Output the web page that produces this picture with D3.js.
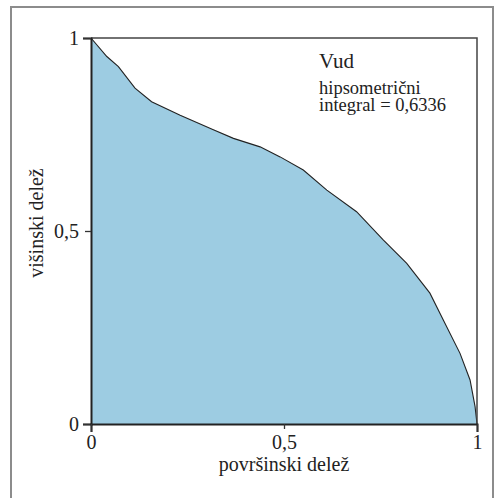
<!DOCTYPE html>
<html>
<head>
<meta charset="utf-8">
<script src="https://cdn.jsdelivr.net/npm/d3@7.9.0/dist/d3.min.js"></script>
</head>
<body style="margin:0">
<script>
// hypsometric curve
const areaShare   = [0, 0.041, 0.071, 0.114, 0.157, 0.231, 0.317, 0.369, 0.438, 0.490, 0.550, 0.611, 0.688, 0.757, 0.818, 0.878, 0.913, 0.956, 0.982, 0.995, 1];
const heightShare = [1, 0.952, 0.926, 0.870, 0.835, 0.800, 0.762, 0.740, 0.718, 0.692, 0.658, 0.606, 0.550, 0.477, 0.416, 0.339, 0.269, 0.183, 0.114, 0.045, 0];
const tickVals = [0, 0.5, 1];
const basinName = 'Vud';
const integralText = ['hipsometrični', 'integral = 0,6336'];

const W = 495, H = 498;
const pLeft = 91, pTop = 38, pRight = 477, pBottom = 424;
const fontFam = 'Liberation Serif';

const svg = d3.select('body').append('svg')
  .attr('width', W).attr('height', H)
  .attr('font-family', fontFam);

// outer frame (runs off the bottom of the picture)
svg.append('rect')
  .attr('x', 11).attr('y', 7)
  .attr('width', 482).attr('height', 520)
  .attr('fill', 'none')
  .attr('stroke', '#8c8c8c')
  .attr('stroke-width', 2);

const x = d3.scaleLinear().domain([0, 1]).range([pLeft, pRight]);
const y = d3.scaleLinear().domain([0, 1]).range([pBottom, pTop]);

const pts = areaShare.map((a, i) => [a, heightShare[i]]);

// filled area under the curve
svg.append('path')
  .datum(pts)
  .attr('fill', '#9dcce2')
  .attr('d', d3.area().x(d => x(d[0])).y0(y(0)).y1(d => y(d[1])));

svg.append('path')
  .datum(pts)
  .attr('fill', 'none')
  .attr('stroke', '#222')
  .attr('stroke-width', 1.1)
  .attr('d', d3.line().x(d => x(d[0])).y(d => y(d[1])));

// top + right frame of plot
svg.append('path')
  .attr('d', `M${x(0)},${y(1)}H${x(1)}V${y(0)}`)
  .attr('fill', 'none')
  .attr('stroke', '#444')
  .attr('stroke-width', 1.5);

const fmt = d => d === 0.5 ? '0,5' : String(d);

const yAxis = svg.append('g')
  .attr('transform', `translate(${pLeft},0)`)
  .call(d3.axisLeft(y).tickValues(tickVals).tickFormat(fmt).tickSize(8).tickPadding(4));
const xAxis = svg.append('g')
  .attr('transform', `translate(0,${pBottom})`)
  .call(d3.axisBottom(x).tickValues(tickVals).tickFormat(fmt).tickSize(8).tickPadding(3));

[xAxis, yAxis].forEach(g => {
  g.attr('font-family', fontFam).attr('font-size', 20);
  g.select('.domain').attr('stroke', '#222').attr('stroke-width', 2);
  g.selectAll('.tick line').attr('stroke', '#333').attr('stroke-width', 1.3);
  g.selectAll('.tick text').attr('fill', '#222');
});
yAxis.selectAll('.tick line').filter(d => d === 0.5).attr('x2', -6);
xAxis.selectAll('.tick line').filter(d => d === 0.5).attr('y2', 5);

// axis titles
svg.append('text')
  .attr('x', (pLeft + pRight) / 2).attr('y', 471)
  .attr('text-anchor', 'middle')
  .attr('fill', '#222')
  .attr('font-size', 20)
  .text('površinski delež');

svg.append('text')
  .attr('transform', `translate(43,${(pTop + pBottom) / 2 - 8}) rotate(-90)`)
  .attr('text-anchor', 'middle')
  .attr('fill', '#222')
  .attr('font-size', 20)
  .text('višinski delež');

// annotation
svg.append('text')
  .attr('x', 319).attr('y', 68)
  .attr('fill', '#222')
  .attr('font-size', 21)
  .text(basinName);

svg.append('text')
  .attr('x', 319).attr('y', 94)
  .attr('fill', '#222')
  .attr('font-size', 18.5)
  .selectAll('tspan')
  .data(integralText)
  .join('tspan')
    .attr('x', 319)
    .attr('dy', (d, i) => i === 0 ? 0 : 16.7)
    .text(d => d);
</script>
</body>
</html>
